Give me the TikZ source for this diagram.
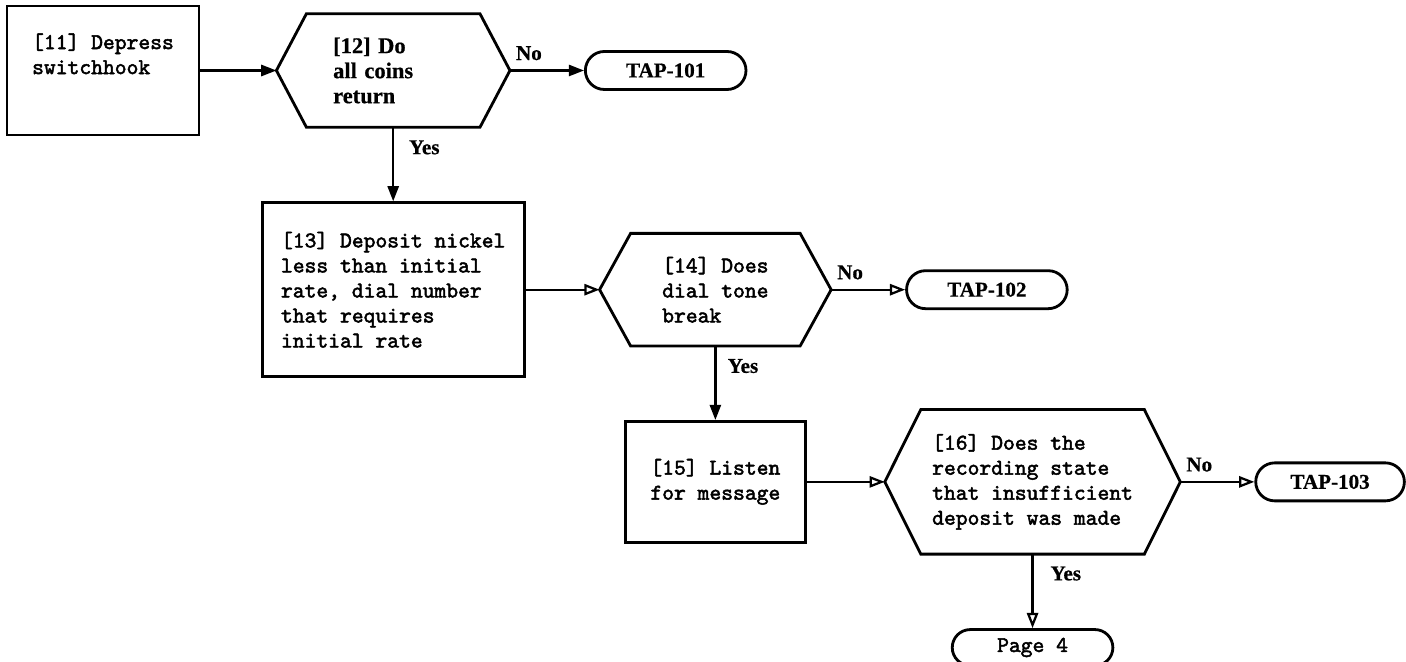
\documentclass[tikz,border=0pt]{standalone}
\usepackage{fontspec}
\newfontfamily\labelfont{Liberation Serif}[FakeBold=0.6]
\newfontfamily\typefont{lmmono10-regular}[Extension=.otf, FakeBold=2.2]
\usetikzlibrary{arrows.meta,positioning,shapes.misc}

% outline of a decision node (flat top, pointed sides)
\newcommand{\hexframe}[2]{%
  \draw[line width=2pt] (#1.west) -- ([xshift=#2]#1.north west) -- ([xshift=-#2]#1.north east)
    -- (#1.east) -- ([xshift=-#2]#1.south east) -- ([xshift=#2]#1.south west) -- cycle;}

\begin{document}
\begin{tikzpicture}[
    font=\typefont\fontsize{16}{17.8}\selectfont,
    node distance=1.85cm,
    proc/.style={draw, line width=2pt, align=left},
    decision/.style={align=left, inner sep=0pt},
    term/.style={draw, line width=2pt, rounded rectangle, minimum width=4.25cm, minimum height=0.95cm},
    tap/.style={term, font=\labelfont\bfseries\fontsize{15}{15}\selectfont},
    answer/.style={inner sep=0pt, font=\labelfont\bfseries\fontsize{15}{15}\selectfont},
    flow/.style={line width=1.6pt, -{Triangle[length=0.38cm, width=0.28cm]}},
    flowopen/.style={line width=1.6pt, -{Triangle[open, length=0.38cm, width=0.28cm]}}
]
\useasboundingbox (-2.575,1.7625) rectangle ++(35.15,-16.55);

\node[proc, minimum width=4.8cm, minimum height=3.225cm] (b11) at (0,0) {[11] Depress\\switchhook\\[6pt]};
\node[decision, minimum width=5.825cm, minimum height=2.825cm, text width=3cm, right=1.9cm of b11,
      font=\labelfont\bfseries\fontsize{16}{17.8}\selectfont] (h12) {[12] Do\\all coins\\return};
\node[tap, right=of h12] (t101) {TAP-101};
\node[proc, minimum width=6.55cm, minimum height=4.35cm, below=of h12] (b13)
    {[13] Deposit nickel\\less than initial\\rate, dial number\\that requires\\initial rate};
\node[decision, minimum width=5.775cm, minimum height=2.8cm, right=of b13] (h14) {[14] Does\\dial tone\\break};
\node[tap, right=of h14] (t102) {TAP-102};
\node[proc, minimum width=4.5cm, minimum height=3.025cm, below=of h14] (b15) {[15] Listen\\for message};
\node[decision, minimum width=7.375cm, minimum height=3.6cm, right=1.95cm of b15] (h16)
    {[16] Does the\\recording state\\that insufficient\\deposit was made};
\node[tap, minimum width=3.95cm, right=of h16] (t103) {TAP-103};
\node[term, minimum height=0.9cm, below=of h16] (p4) {Page 4};

\hexframe{h12}{0.75cm}
\hexframe{h14}{0.775cm}
\hexframe{h16}{0.9cm}

\draw[flow] (b11.east) -- (h12.west);
\draw[flow] (h12.east) -- node[answer, pos=0, above right=6.5pt and 3.5pt] {No} (t101.west);
\draw[flow] (h12.south) -- node[answer, pos=0, below right=8.5pt and 10.5pt] {Yes} (b13.north);
\draw[flowopen] (b13.east) -- (h14.west);
\draw[flowopen] (h14.east) -- node[answer, pos=0, above right=6.5pt and 3.5pt] {No} (t102.west);
\draw[flow] (h14.south) -- node[answer, pos=0, below right=8.5pt and 8pt] {Yes} (b15.north);
\draw[flowopen] (b15.east) -- (h16.west);
\draw[flowopen] (h16.east) -- node[answer, pos=0, above right=6.5pt and 3.5pt] {No} (t103.west);
\draw[flowopen] (h16.south) -- node[answer, pos=0, below right=8pt and 12pt] {Yes} (p4.north);
\end{tikzpicture}
\end{document}
